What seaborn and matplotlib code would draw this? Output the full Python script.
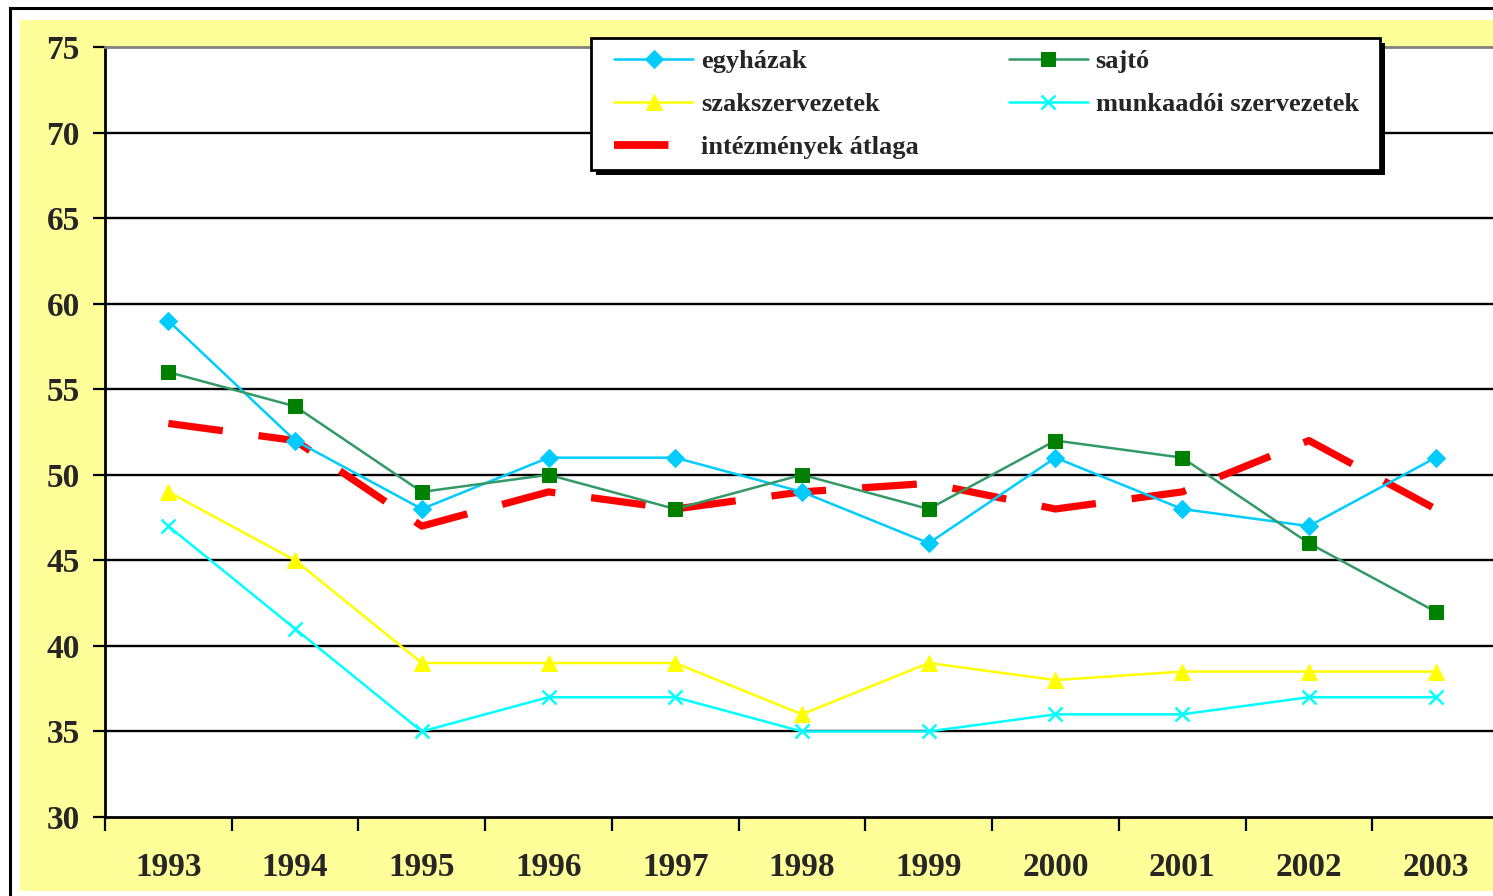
import matplotlib
matplotlib.use("Agg")
import matplotlib.pyplot as plt
import seaborn as sns
import pandas as pd
from matplotlib.patches import Rectangle
from matplotlib.lines import Line2D
from matplotlib.ticker import FixedLocator

years = ["1993", "1994", "1995", "1996", "1997", "1998", "1999", "2000", "2001", "2002", "2003"]
egyhazak = [59, 52, 48, 51, 51, 49, 46, 51, 48, 47, 51]
sajto = [56, 54, 49, 50, 48, 50, 48, 52, 51, 46, 42]
szakszervezetek = [49, 45, 39, 39, 39, 36, 39, 38, 38.5, 38.5, 38.5]
munkaadoi = [47, 41, 35, 37, 37, 35, 35, 36, 36, 37, 37]
atlag = [53, 52, 47, 49, 48, 49, 49.5, 48, 49, 52, 48]
y_ticks = [30, 35, 40, 45, 50, 55, 60, 65, 70, 75]

sns.set_theme(style="white")
plt.rcParams["font.family"] = ["Liberation Serif", "DejaVu Serif"]
plt.rcParams["font.weight"] = "bold"

W, H = 1493, 896
fig = plt.figure(figsize=(W / 100, H / 100), dpi=100)
fig.patch.set_facecolor("white")

# yellow chart area and outer border
fig.add_artist(Rectangle((20 / W, 1 - 891 / H), 2.0, (891 - 20) / H,
                         transform=fig.transFigure, facecolor="#FFFF99",
                         edgecolor="none", zorder=0))
fig.add_artist(Rectangle((10 / W, -0.5), 2.0, 0.5 + 1 - 8 / H,
                         transform=fig.transFigure, facecolor="none",
                         edgecolor="black", linewidth=2.2, zorder=1))

ax = fig.add_axes([105 / W, 1 - 817 / H, (1499 - 105) / W, (817 - 47) / H])
ax.set_facecolor("white")
ax.set_zorder(2)

x = list(range(len(years)))
df = pd.DataFrame({"x": x, "egyhazak": egyhazak, "sajto": sajto,
                   "szak": szakszervezetek, "munk": munkaadoi, "atlag": atlag})

# gridlines
for v in y_ticks[1:-1]:
    ax.axhline(v, color="black", linewidth=1.7, zorder=1)

sns.lineplot(data=df, x="x", y="egyhazak", ax=ax, color="#00CCFF", linewidth=1.8,
             marker="D", markersize=9, markeredgecolor="#00CCFF",
             label="egyházak", zorder=4)
sns.lineplot(data=df, x="x", y="sajto", ax=ax, color="#339966", linewidth=1.8,
             marker="s", markersize=10.5, markerfacecolor="#008000",
             markeredgecolor="#008000", label="sajtó", zorder=4)
sns.lineplot(data=df, x="x", y="szak", ax=ax, color="#FFFF00", linewidth=1.8,
             marker="^", markersize=11, markeredgecolor="#FFFF00",
             label="szakszervezetek", zorder=4)
sns.lineplot(data=df, x="x", y="munk", ax=ax, color="#00FFFF", linewidth=1.8,
             marker="x", markersize=10, markeredgewidth=1.8,
             markeredgecolor="#00FFFF", label="munkaadói szervezetek", zorder=4)
sns.lineplot(data=df, x="x", y="atlag", ax=ax, color="#FF0000", linewidth=5.2,
             linestyle=(0, (7.6, 5.0)), label="intézmények átlaga", zorder=3)
for ln in ax.get_lines()[-1:]:
    ln.set_solid_capstyle("butt")
    ln.set_dash_capstyle("butt")

ax.set_xlim(-0.5, 10.5)
ax.set_ylim(30, 75)
ax.set_xlabel("")
ax.set_ylabel("")

ax.set_yticks(y_ticks)
ax.set_yticklabels([str(v) for v in y_ticks], fontsize=24, fontweight="bold")
ax.tick_params(axis="y", direction="out", length=9, width=1.6, color="black",
               pad=9, left=True)

ax.set_xticks(x)
ax.set_xticklabels(years, fontsize=24, fontweight="bold")
ax.xaxis.set_minor_locator(FixedLocator([i - 0.5 for i in range(len(years) + 1)]))
ax.tick_params(axis="x", which="major", length=0, pad=25)
ax.tick_params(axis="x", which="minor", direction="out", length=10, width=1.6,
               color="black", bottom=True)

for s in ["left", "bottom"]:
    ax.spines[s].set_color("black")
    ax.spines[s].set_linewidth(2)
ax.spines["top"].set_color("#808080")
ax.spines["top"].set_linewidth(2)
ax.spines["right"].set_visible(False)

# legend box with shadow (drawn as patches)
bx0, by0, bx1, by1 = 591, 38, 1380, 170
ax.add_patch(Rectangle(((bx0 + 5) / W, 1 - (by1 + 5) / H), (bx1 - bx0) / W,
                       (by1 - by0) / H, transform=fig.transFigure,
                       facecolor="black", edgecolor="black", linewidth=0,
                       clip_on=False, zorder=8))
ax.add_patch(Rectangle((bx0 / W, 1 - by1 / H), (bx1 - bx0) / W, (by1 - by0) / H,
                       transform=fig.transFigure, facecolor="white",
                       edgecolor="black", linewidth=2, clip_on=False, zorder=9))

handles, labels = ax.get_legend_handles_labels()
handles[4] = Line2D([], [], color="#FF0000", linewidth=5.6,
                    linestyle=(0, (7.0, 10.0)), dash_capstyle="butt")
order = [0, 2, 4, 1, 3]
leg = ax.legend([handles[i] for i in order], [labels[i] for i in order],
                ncol=2, loc="upper left",
                bbox_to_anchor=(614 / W, 1 - 50 / H),
                bbox_transform=fig.transFigure,
                prop={"family": "Liberation Serif", "weight": "bold", "size": 19},
                frameon=False,
                handlelength=3.0, handletextpad=0.3, labelspacing=0.74,
                columnspacing=3.4, borderpad=0, borderaxespad=0)
leg.set_zorder(10)

fig.savefig("out.png", dpi=100, facecolor="white")
